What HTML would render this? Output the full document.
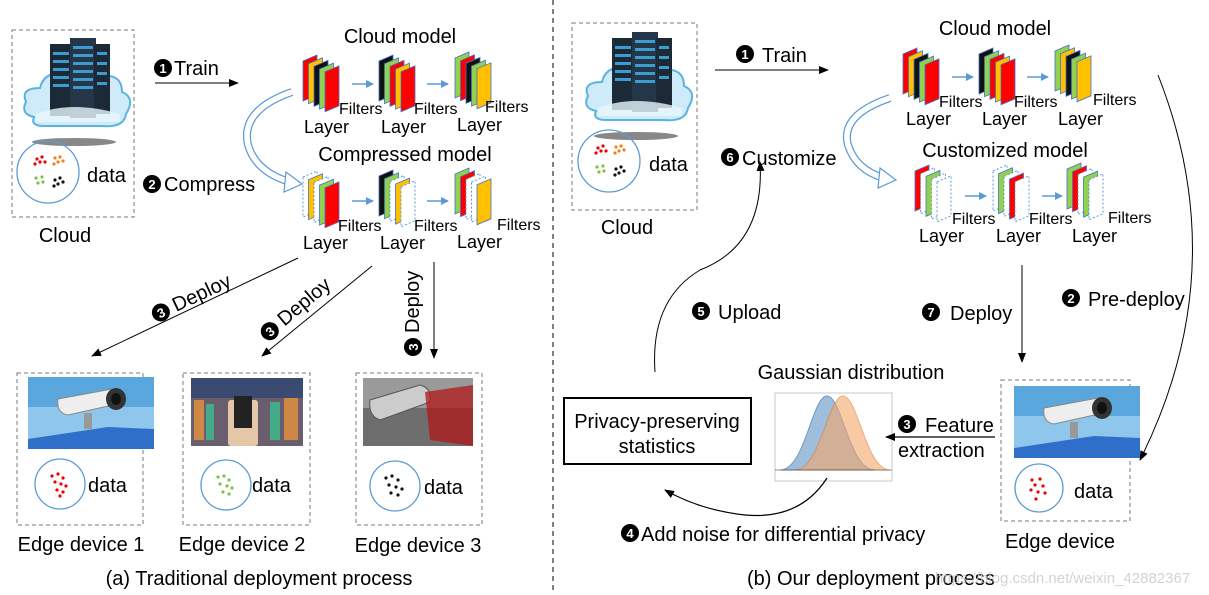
<!DOCTYPE html>
<html><head><meta charset="utf-8"><style>
body{margin:0;background:#fff;}
svg{display:block;font-family:"Liberation Sans",sans-serif;}
text{fill:#000;}
</style></head><body>
<svg width="1209" height="595" viewBox="0 0 1209 595" xmlns="http://www.w3.org/2000/svg">
<defs>
<marker id="ah" markerWidth="10" markerHeight="8" refX="9" refY="4" orient="auto" markerUnits="userSpaceOnUse"><path d="M0,0 L10,4 L0,8 Z" fill="#000"/></marker>
<marker id="bh" markerWidth="8" markerHeight="8" refX="7" refY="4" orient="auto" markerUnits="userSpaceOnUse"><path d="M0,0 L8,4 L0,8 Z" fill="#5b9bd5"/></marker>
<g id="sR"><polygon points="0,6 14,0 14,40 0,46" fill="#ff0000" stroke="#4472c4" stroke-width="0.8"/></g>
<g id="sO"><polygon points="0,6 14,0 14,40 0,46" fill="#ffc000" stroke="#4472c4" stroke-width="0.8"/></g>
<g id="sK"><polygon points="0,6 14,0 14,40 0,46" fill="#111" stroke="#4472c4" stroke-width="0.8"/></g>
<g id="sG"><polygon points="0,6 14,0 14,40 0,46" fill="#92d050" stroke="#4472c4" stroke-width="0.8"/></g>
<g id="sD"><polygon points="0,6 14,0 14,40 0,46" fill="#fff" stroke="#5b9bd5" stroke-width="1" stroke-dasharray="2,2"/></g>
<g id="server">
 <ellipse cx="62" cy="120" rx="42" ry="4" fill="#555" opacity="0.7"/>
 <path d="M22,95 Q8,92 14,80 Q8,66 28,66 Q32,48 56,52 Q72,40 90,54 Q110,52 110,70 Q124,76 114,92 Q112,106 90,104 L32,104 Q18,104 22,95 Z" fill="#cfeaf8" stroke="#5ab4e0" stroke-width="2"/>
 <rect x="38" y="22" width="22" height="72" fill="#1c2a38"/>
 <rect x="58" y="16" width="26" height="80" fill="#243648"/>
 <rect x="82" y="22" width="16" height="70" fill="#1c2a38"/>
 <g fill="#3a9ccf"><rect x="41" y="30" width="16" height="3"/><rect x="41" y="38" width="16" height="3"/><rect x="41" y="46" width="16" height="3"/><rect x="41" y="54" width="16" height="3"/><rect x="41" y="62" width="16" height="3"/><rect x="61" y="24" width="20" height="3"/><rect x="61" y="32" width="20" height="3"/><rect x="61" y="40" width="20" height="3"/><rect x="61" y="48" width="20" height="3"/><rect x="61" y="56" width="20" height="3"/><rect x="61" y="64" width="20" height="3"/><rect x="85" y="30" width="10" height="3"/><rect x="85" y="40" width="10" height="3"/><rect x="85" y="50" width="10" height="3"/><rect x="85" y="60" width="10" height="3"/></g>
 <path d="M24,92 Q60,78 108,92 L108,100 L24,100 Z" fill="#e8f6fd" opacity="0.8"/>
</g>
<g id="cam">
 <rect x="0" y="0" width="126" height="72" fill="#8fc6ec"/>
 <rect x="0" y="0" width="126" height="30" fill="#5aa7dd"/>
 <polygon points="0,72 0,62 80,50 126,52 126,72" fill="#2f6fc9"/>
 <rect x="56" y="36" width="8" height="16" fill="#999"/>
 <path d="M30,22 L84,12 Q96,14 94,26 L40,38 Q28,36 30,22 Z" fill="#eee" stroke="#888"/>
 <ellipse cx="88" cy="22" rx="10" ry="11" fill="#333"/>
 <ellipse cx="88" cy="22" rx="5" ry="6" fill="#111"/>
</g>
</defs>

<line x1="553" y1="0" x2="553" y2="590" stroke="#000" stroke-width="1" stroke-dasharray="5,4"/>

<!-- LEFT -->
<rect x="12" y="30" width="122" height="187" fill="none" stroke="#777" stroke-dasharray="4,3"/>
<use href="#server" x="12" y="22"/>
<circle cx="48" cy="172" r="31" fill="none" stroke="#5b9bd5" stroke-width="1.3"/>
<g fill="#e00"><circle cx="37" cy="159" r="1.6"/><circle cx="42" cy="157" r="1.6"/><circle cx="40" cy="162" r="1.6"/><circle cx="35" cy="164" r="1.6"/><circle cx="45" cy="162" r="1.6"/></g>
<g fill="#f08020"><circle cx="55" cy="158" r="1.6"/><circle cx="60" cy="157" r="1.6"/><circle cx="58" cy="162" r="1.6"/><circle cx="54" cy="164" r="1.6"/><circle cx="63" cy="161" r="1.6"/></g>
<g fill="#7dc242"><circle cx="36" cy="178" r="1.6"/><circle cx="42" cy="177" r="1.6"/><circle cx="38" cy="183" r="1.6"/><circle cx="43" cy="182" r="1.6"/></g>
<g fill="#111"><circle cx="55" cy="180" r="1.6"/><circle cx="60" cy="178" r="1.6"/><circle cx="58" cy="184" r="1.6"/><circle cx="63" cy="182" r="1.6"/><circle cx="54" cy="186" r="1.6"/></g>
<text x="87" y="182" font-size="20">data</text>
<text x="65" y="242" font-size="20" text-anchor="middle">Cloud</text>

<circle cx="163" cy="68" r="9" fill="#000"/><text x="163" y="73" font-size="13" font-weight="bold" text-anchor="middle" style="fill:#fff">1</text>
<text x="174" y="75" font-size="20">Train</text>
<line x1="155" y1="83" x2="238" y2="83" stroke="#000" marker-end="url(#ah)"/>

<text x="400" y="43" font-size="20" text-anchor="middle">Cloud model</text>
<g transform="translate(303,55)"><use href="#sR"/><use href="#sO" x="5.5" y="2.7"/><use href="#sK" x="11" y="5.4"/><use href="#sG" x="16.5" y="8.1"/><use href="#sR" x="22" y="10.8"/></g>
<g transform="translate(379,55)"><use href="#sK"/><use href="#sG" x="5.5" y="2.7"/><use href="#sR" x="11" y="5.4"/><use href="#sO" x="16.5" y="8.1"/><use href="#sR" x="22" y="10.8"/></g>
<g transform="translate(455,52)"><use href="#sG"/><use href="#sR" x="5.5" y="2.7"/><use href="#sK" x="11" y="5.4"/><use href="#sG" x="16.5" y="8.1"/><use href="#sO" x="22" y="10.8"/></g>
<line x1="352" y1="84" x2="373" y2="84" stroke="#5b9bd5" stroke-width="1.5" marker-end="url(#bh)"/>
<line x1="427" y1="84" x2="448" y2="84" stroke="#5b9bd5" stroke-width="1.5" marker-end="url(#bh)"/>
<g font-size="16"><text x="339" y="114">Filters</text><text x="414" y="114">Filters</text><text x="485" y="112">Filters</text></g>
<g font-size="18"><text x="304" y="133">Layer</text><text x="381" y="133">Layer</text><text x="457" y="131">Layer</text></g>

<text x="405" y="161" font-size="20" text-anchor="middle">Compressed model</text>
<g transform="translate(303,171)"><use href="#sD"/><use href="#sO" x="5.5" y="2.7"/><use href="#sD" x="11" y="5.4"/><use href="#sG" x="16.5" y="8.1"/><use href="#sR" x="22" y="10.8"/></g>
<g transform="translate(379,170)"><use href="#sK"/><use href="#sG" x="5.5" y="2.7"/><use href="#sD" x="11" y="5.4"/><use href="#sO" x="16.5" y="8.1"/><use href="#sD" x="22" y="10.8"/></g>
<g transform="translate(455,168)"><use href="#sG"/><use href="#sR" x="5.5" y="2.7"/><use href="#sD" x="11" y="5.4"/><use href="#sD" x="16.5" y="8.1"/><use href="#sO" x="22" y="10.8"/></g>
<line x1="352" y1="201" x2="373" y2="201" stroke="#5b9bd5" stroke-width="1.5" marker-end="url(#bh)"/>
<line x1="427" y1="201" x2="448" y2="201" stroke="#5b9bd5" stroke-width="1.5" marker-end="url(#bh)"/>
<g font-size="16"><text x="338" y="231">Filters</text><text x="414" y="231">Filters</text><text x="497" y="230">Filters</text></g>
<g font-size="18"><text x="303" y="249">Layer</text><text x="380" y="249">Layer</text><text x="457" y="248">Layer</text></g>

<path d="M292,92 Q240,110 248,145 Q256,172 290,182" fill="none" stroke="#5b9bd5" stroke-width="8"/>
<path d="M292,92 Q240,110 248,145 Q256,172 290,182" fill="none" stroke="#fff" stroke-width="5.5"/>
<polygon points="286,172 302,184 284,192" fill="#fff" stroke="#5b9bd5" stroke-width="1.2"/>

<circle cx="152" cy="184" r="9" fill="#000"/><text x="152" y="189" font-size="13" font-weight="bold" text-anchor="middle" style="fill:#fff">2</text>
<text x="164" y="191" font-size="20">Compress</text>

<line x1="298" y1="258" x2="92" y2="356" stroke="#000" marker-end="url(#ah)"/>
<line x1="372" y1="266" x2="262" y2="356" stroke="#000" marker-end="url(#ah)"/>
<line x1="434" y1="262" x2="434" y2="358" stroke="#000" marker-end="url(#ah)"/>
<g transform="translate(163,317) rotate(-25)"><circle cx="0" cy="-5" r="9" fill="#000"/><text x="0" y="0" font-size="13" font-weight="bold" text-anchor="middle" style="fill:#fff">3</text><text x="14" y="1" font-size="20">Deploy</text></g>
<g transform="translate(273,335) rotate(-40)"><circle cx="0" cy="-5" r="9" fill="#000"/><text x="0" y="0" font-size="13" font-weight="bold" text-anchor="middle" style="fill:#fff">3</text><text x="14" y="1" font-size="20">Deploy</text></g>
<g transform="translate(418,347) rotate(-90)"><circle cx="0" cy="-5" r="9" fill="#000"/><text x="0" y="0" font-size="13" font-weight="bold" text-anchor="middle" style="fill:#fff">3</text><text x="14" y="1" font-size="20">Deploy</text></g>

<rect x="17" y="373" width="126" height="152" fill="none" stroke="#777" stroke-dasharray="4,3"/>
<use href="#cam" x="28" y="377"/>
<circle cx="60" cy="484" r="25" fill="none" stroke="#5b9bd5" stroke-width="1.3"/>
<g fill="#e00"><circle cx="52" cy="476" r="1.6"/><circle cx="58" cy="474" r="1.6"/><circle cx="63" cy="478" r="1.6"/><circle cx="55" cy="482" r="1.6"/><circle cx="61" cy="484" r="1.6"/><circle cx="66" cy="486" r="1.6"/><circle cx="57" cy="490" r="1.6"/><circle cx="63" cy="492" r="1.6"/><circle cx="60" cy="496" r="1.6"/></g>
<text x="88" y="492" font-size="20">data</text>
<text x="81" y="551" font-size="20" text-anchor="middle">Edge device 1</text>

<rect x="183" y="373" width="127" height="152" fill="none" stroke="#777" stroke-dasharray="4,3"/>
<rect x="191" y="378" width="112" height="68" fill="#6a5e6e"/>
<rect x="191" y="378" width="112" height="20" fill="#3b4a70"/>
<g fill="#c84"><rect x="194" y="400" width="10" height="40"/><rect x="284" y="398" width="14" height="42"/></g>
<g fill="#4a8"><rect x="206" y="404" width="8" height="36"/><rect x="270" y="402" width="10" height="38"/></g>
<rect x="228" y="400" width="30" height="46" rx="3" fill="#e4c7a8"/>
<rect x="234" y="396" width="18" height="32" fill="#222"/>
<circle cx="226" cy="485" r="25" fill="none" stroke="#5b9bd5" stroke-width="1.3"/>
<g fill="#7dc242"><circle cx="218" cy="477" r="1.6"/><circle cx="224" cy="476" r="1.6"/><circle cx="229" cy="480" r="1.6"/><circle cx="220" cy="484" r="1.6"/><circle cx="227" cy="486" r="1.6"/><circle cx="232" cy="488" r="1.6"/><circle cx="223" cy="492" r="1.6"/><circle cx="229" cy="494" r="1.6"/></g>
<text x="252" y="492" font-size="20">data</text>
<text x="242" y="551" font-size="20" text-anchor="middle">Edge device 2</text>

<rect x="356" y="373" width="126" height="152" fill="none" stroke="#777" stroke-dasharray="4,3"/>
<rect x="363" y="378" width="110" height="68" fill="#6e6e6e"/>
<rect x="363" y="378" width="110" height="30" fill="#9a9a9a"/>
<path d="M370,400 L420,385 Q432,388 430,402 L380,420 Q368,416 370,400 Z" fill="#ccc" stroke="#555"/>
<polygon points="425,392 473,385 473,446 430,440" fill="#b01818" opacity="0.75"/>
<circle cx="395" cy="486" r="25" fill="none" stroke="#5b9bd5" stroke-width="1.3"/>
<g fill="#111"><circle cx="386" cy="478" r="1.6"/><circle cx="392" cy="476" r="1.6"/><circle cx="398" cy="480" r="1.6"/><circle cx="389" cy="485" r="1.6"/><circle cx="396" cy="487" r="1.6"/><circle cx="402" cy="489" r="1.6"/><circle cx="391" cy="493" r="1.6"/><circle cx="398" cy="495" r="1.6"/></g>
<text x="424" y="494" font-size="20">data</text>
<text x="418" y="552" font-size="20" text-anchor="middle">Edge device 3</text>

<text x="259" y="585" font-size="20" text-anchor="middle">(a) Traditional deployment process</text>

<!-- RIGHT -->
<rect x="572" y="23" width="125" height="187" fill="none" stroke="#777" stroke-dasharray="4,3"/>
<use href="#server" x="574" y="16"/>
<circle cx="609" cy="161" r="31" fill="none" stroke="#5b9bd5" stroke-width="1.3"/>
<g fill="#e00"><circle cx="598" cy="148" r="1.6"/><circle cx="603" cy="146" r="1.6"/><circle cx="601" cy="151" r="1.6"/><circle cx="596" cy="153" r="1.6"/><circle cx="606" cy="151" r="1.6"/></g>
<g fill="#f08020"><circle cx="616" cy="147" r="1.6"/><circle cx="621" cy="146" r="1.6"/><circle cx="619" cy="151" r="1.6"/><circle cx="615" cy="153" r="1.6"/><circle cx="624" cy="150" r="1.6"/></g>
<g fill="#7dc242"><circle cx="597" cy="167" r="1.6"/><circle cx="603" cy="166" r="1.6"/><circle cx="599" cy="172" r="1.6"/><circle cx="604" cy="171" r="1.6"/></g>
<g fill="#111"><circle cx="616" cy="169" r="1.6"/><circle cx="621" cy="167" r="1.6"/><circle cx="619" cy="173" r="1.6"/><circle cx="624" cy="171" r="1.6"/><circle cx="615" cy="175" r="1.6"/></g>
<text x="649" y="171" font-size="20">data</text>
<text x="627" y="234" font-size="20" text-anchor="middle">Cloud</text>

<circle cx="745" cy="54" r="9" fill="#000"/><text x="745" y="59" font-size="13" font-weight="bold" text-anchor="middle" style="fill:#fff">1</text>
<text x="762" y="62" font-size="20">Train</text>
<line x1="715" y1="70" x2="828" y2="70" stroke="#000" marker-end="url(#ah)"/>

<text x="995" y="35" font-size="20" text-anchor="middle">Cloud model</text>
<g transform="translate(903,48)"><use href="#sR"/><use href="#sO" x="5.5" y="2.7"/><use href="#sK" x="11" y="5.4"/><use href="#sG" x="16.5" y="8.1"/><use href="#sR" x="22" y="10.8"/></g>
<g transform="translate(979,48)"><use href="#sK"/><use href="#sG" x="5.5" y="2.7"/><use href="#sR" x="11" y="5.4"/><use href="#sO" x="16.5" y="8.1"/><use href="#sR" x="22" y="10.8"/></g>
<g transform="translate(1055,45)"><use href="#sG"/><use href="#sO" x="5.5" y="2.7"/><use href="#sK" x="11" y="5.4"/><use href="#sG" x="16.5" y="8.1"/><use href="#sO" x="22" y="10.8"/></g>
<line x1="952" y1="77" x2="973" y2="77" stroke="#5b9bd5" stroke-width="1.5" marker-end="url(#bh)"/>
<line x1="1027" y1="77" x2="1048" y2="77" stroke="#5b9bd5" stroke-width="1.5" marker-end="url(#bh)"/>
<g font-size="16"><text x="939" y="107">Filters</text><text x="1014" y="107">Filters</text><text x="1093" y="105">Filters</text></g>
<g font-size="18"><text x="906" y="125">Layer</text><text x="982" y="125">Layer</text><text x="1058" y="125">Layer</text></g>

<text x="1005" y="157" font-size="20" text-anchor="middle">Customized model</text>
<g transform="translate(915,165)"><use href="#sR"/><use href="#sD" x="5.5" y="2.7"/><use href="#sG" x="11" y="5.4"/><use href="#sD" x="16.5" y="8.1"/><use href="#sD" x="22" y="10.8"/></g>
<g transform="translate(993,165)"><use href="#sD"/><use href="#sG" x="5.5" y="2.7"/><use href="#sD" x="11" y="5.4"/><use href="#sR" x="16.5" y="8.1"/><use href="#sD" x="22" y="10.8"/></g>
<g transform="translate(1067,163)"><use href="#sG"/><use href="#sR" x="5.5" y="2.7"/><use href="#sD" x="11" y="5.4"/><use href="#sG" x="16.5" y="8.1"/><use href="#sD" x="22" y="10.8"/></g>
<line x1="965" y1="196" x2="986" y2="196" stroke="#5b9bd5" stroke-width="1.5" marker-end="url(#bh)"/>
<line x1="1042" y1="196" x2="1062" y2="196" stroke="#5b9bd5" stroke-width="1.5" marker-end="url(#bh)"/>
<g font-size="16"><text x="952" y="224">Filters</text><text x="1029" y="224">Filters</text><text x="1108" y="223">Filters</text></g>
<g font-size="18"><text x="919" y="242">Layer</text><text x="996" y="242">Layer</text><text x="1072" y="242">Layer</text></g>

<path d="M890,98 Q840,115 848,145 Q856,170 884,178" fill="none" stroke="#5b9bd5" stroke-width="8"/>
<path d="M890,98 Q840,115 848,145 Q856,170 884,178" fill="none" stroke="#fff" stroke-width="5.5"/>
<polygon points="880,168 896,180 878,188" fill="#fff" stroke="#5b9bd5" stroke-width="1.2"/>

<circle cx="730" cy="157" r="9" fill="#000"/><text x="730" y="162" font-size="13" font-weight="bold" text-anchor="middle" style="fill:#fff">6</text>
<text x="742" y="165" font-size="20">Customize</text>

<path d="M655,372 Q650,300 700,270 Q765,245 760,162" fill="none" stroke="#000" marker-end="url(#ah)"/>
<circle cx="701" cy="311" r="9" fill="#000"/><text x="701" y="316" font-size="13" font-weight="bold" text-anchor="middle" style="fill:#fff">5</text>
<text x="718" y="319" font-size="20">Upload</text>

<circle cx="931" cy="312" r="9" fill="#000"/><text x="931" y="317" font-size="13" font-weight="bold" text-anchor="middle" style="fill:#fff">7</text>
<text x="950" y="320" font-size="20">Deploy</text>
<line x1="1022" y1="265" x2="1022" y2="362" stroke="#000" marker-end="url(#ah)"/>

<circle cx="1071" cy="298" r="9" fill="#000"/><text x="1071" y="303" font-size="13" font-weight="bold" text-anchor="middle" style="fill:#fff">2</text>
<text x="1088" y="306" font-size="20">Pre-deploy</text>
<path d="M1158,75 Q1235,270 1140,460" fill="none" stroke="#000" marker-end="url(#ah)"/>

<rect x="1001" y="380" width="129" height="141" fill="none" stroke="#777" stroke-dasharray="4,3"/>
<use href="#cam" x="1014" y="386"/>
<circle cx="1039" cy="488" r="24" fill="none" stroke="#5b9bd5" stroke-width="1.3"/>
<g fill="#e00"><circle cx="1032" cy="480" r="1.6"/><circle cx="1040" cy="479" r="1.6"/><circle cx="1035" cy="485" r="1.6"/><circle cx="1043" cy="486" r="1.6"/><circle cx="1031" cy="490" r="1.6"/><circle cx="1038" cy="492" r="1.6"/><circle cx="1045" cy="493" r="1.6"/><circle cx="1036" cy="499" r="1.6"/></g>
<text x="1074" y="498" font-size="20">data</text>
<text x="1060" y="548" font-size="20" text-anchor="middle">Edge device</text>

<text x="851" y="379" font-size="20" text-anchor="middle">Gaussian distribution</text>
<rect x="775" y="393" width="117" height="88" fill="#fff" stroke="#bbb" stroke-width="0.8"/>
<path d="M780,470 C805,470 812,396 827,396 C842,396 849,470 875,470 Z" fill="#7fa9cf" opacity="0.75" stroke="#3a78b5"/>
<path d="M795,470 C820,470 828,396 843,396 C858,396 866,470 890,470 Z" fill="#f5a66a" opacity="0.6" stroke="#e07a2a"/>
<line x1="775" y1="470" x2="892" y2="470" stroke="#333" stroke-width="0.6"/>

<line x1="995" y1="437" x2="886" y2="437" stroke="#000" stroke-width="1.2" marker-end="url(#ah)"/>
<circle cx="907" cy="424" r="9" fill="#000"/><text x="907" y="429" font-size="13" font-weight="bold" text-anchor="middle" style="fill:#fff">3</text>
<text x="925" y="432" font-size="20">Feature</text>
<text x="898" y="457" font-size="20">extraction</text>

<rect x="564" y="398" width="187" height="66" fill="#fff" stroke="#000" stroke-width="2"/>
<text x="657" y="428" font-size="20" text-anchor="middle">Privacy-preserving</text>
<text x="657" y="453" font-size="20" text-anchor="middle">statistics</text>

<path d="M827,478 Q800,520 745,515 Q700,510 665,490" fill="none" stroke="#000" stroke-width="1.2" marker-end="url(#ah)"/>
<circle cx="630" cy="533" r="9" fill="#000"/><text x="630" y="538" font-size="13" font-weight="bold" text-anchor="middle" style="fill:#fff">4</text>
<text x="641" y="541" font-size="20">Add noise for differential privacy</text>

<text x="747" y="585" font-size="20">(b) Our deployment process</text>
<text x="935" y="583" font-size="15" style="fill:#c8c8c8" fill-opacity="0.8">https://blog.csdn.net/weixin_42882367</text>
</svg>
</body></html>
